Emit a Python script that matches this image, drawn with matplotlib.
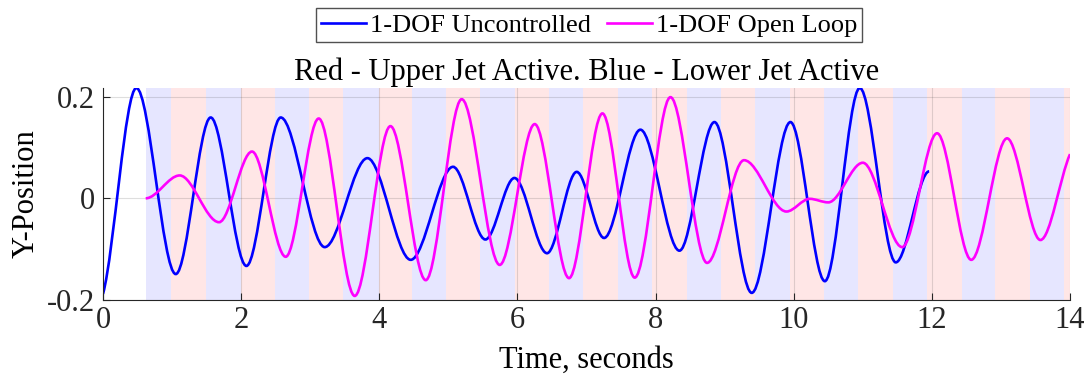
import matplotlib
matplotlib.use("Agg")
import matplotlib.pyplot as plt
from matplotlib.path import Path
from matplotlib.patches import PathPatch
from matplotlib.lines import Line2D

plt.rcParams["font.family"] = ["Liberation Serif", "DejaVu Serif"]
plt.rcParams["axes.unicode_minus"] = False
SERIF = ["Liberation Serif", "DejaVu Serif"]

# jet switching times (s); first band is blue, then they alternate red/blue
band_edges = [0.62, 0.99, 1.49, 2.00, 2.49, 2.98, 3.47, 3.99, 4.47, 4.97, 5.46,
              5.97, 6.46, 6.95, 7.45, 7.95, 8.45, 8.94, 9.44, 9.94, 10.44,
              10.93, 11.43, 11.93, 12.43, 12.92, 13.42, 13.91, 14.00]

# 1-DOF uncontrolled: peaks / troughs
unc_t = [0.00, 0.483, 1.053, 1.559, 2.076, 2.573, 3.21, 3.828, 4.455, 5.067,
         5.536, 5.956, 6.428, 6.858, 7.254, 7.78, 8.345, 8.852, 9.392, 9.952,
         10.45, 10.956, 11.477, 11.96]
unc_y = [-0.188, 0.217, -0.149, 0.159, -0.133, 0.159, -0.096, 0.079, -0.121,
         0.062, -0.081, 0.040, -0.108, 0.052, -0.078, 0.135, -0.103, 0.150,
         -0.186, 0.150, -0.163, 0.217, -0.126, 0.053]
unc_slope = [0.5] + [0.0] * 23

# 1-DOF open loop
ol_t = [0.618, 1.11, 1.68, 2.157, 2.645, 3.123, 3.644, 4.161, 4.672, 5.193,
        5.743, 6.25, 6.747, 7.23, 7.698, 8.215, 8.745, 9.28, 9.894, 10.23,
        10.5, 11.0, 11.57, 12.075, 12.57, 13.088, 13.571, 14.0]
ol_y = [0.0, 0.045, -0.047, 0.092, -0.115, 0.157, -0.192, 0.142, -0.161, 0.195,
        -0.131, 0.146, -0.157, 0.167, -0.156, 0.199, -0.127, 0.075, -0.026,
        -0.001, -0.008, 0.070, -0.096, 0.128, -0.121, 0.118, -0.082, 0.087]
ol_slope = [0.0] * 27 + [0.3]


def smooth_path(t, y, m):
    # hermite segments written as cubic bezier pieces
    verts = [(t[0], y[0])]
    codes = [Path.MOVETO]
    for i in range(len(t) - 1):
        dt = t[i + 1] - t[i]
        verts += [(t[i] + dt / 3, y[i] + m[i] * dt / 3),
                  (t[i + 1] - dt / 3, y[i + 1] - m[i + 1] * dt / 3),
                  (t[i + 1], y[i + 1])]
        codes += [Path.CURVE4] * 3
    return Path(verts, codes)


fig = plt.figure(figsize=(10.89, 3.84), dpi=100)
ax = fig.add_axes([0.0946, 0.2188, 0.888, 0.552])

for i in range(len(band_edges) - 1):
    c = "#e6e6ff" if i % 2 == 0 else "#ffe6e6"
    ax.axvspan(band_edges[i], band_edges[i + 1], color=c, lw=0, zorder=0.1)

ax.add_patch(PathPatch(smooth_path(unc_t, unc_y, unc_slope), fill=False,
                       edgecolor="#0000ff", lw=1.9, zorder=2))
ax.add_patch(PathPatch(smooth_path(ol_t, ol_y, ol_slope), fill=False,
                       edgecolor="#ff00ff", lw=1.9, zorder=2))

ax.set_xlim(0, 14)
ax.set_ylim(-0.2, 0.217)
ax.set_xticks(range(0, 15, 2))
ax.set_yticks([-0.2, 0, 0.2])
ax.set_yticklabels(["-0.2", "0", "0.2"])
ax.set_axisbelow(True)
ax.grid(True, color="#262626", alpha=0.15, lw=0.8)

for s in ["top", "right"]:
    ax.spines[s].set_visible(False)
for s in ["left", "bottom"]:
    ax.spines[s].set_color("#262626")
    ax.spines[s].set_linewidth(0.8)
ax.tick_params(direction="in", length=5, width=0.8, color="#262626",
               labelsize=22, labelcolor="#262626")
ax.tick_params(axis="x", pad=4)
ax.tick_params(axis="y", pad=6)
for lab in ax.get_xticklabels() + ax.get_yticklabels():
    lab.set_family(SERIF)

ax.set_xlabel("Time, seconds", fontsize=22, family=SERIF, labelpad=8)
ax.set_ylabel("Y-Position", fontsize=22, family=SERIF, labelpad=4)
ax.set_title("Red - Upper Jet Active. Blue - Lower Jet Active",
             fontsize=22, family=SERIF, pad=6)

handles = [Line2D([], [], color="#0000ff", lw=1.9),
           Line2D([], [], color="#ff00ff", lw=1.9)]
fig.legend(handles, ["1-DOF Uncontrolled", "1-DOF Open Loop"],
           loc="center", bbox_to_anchor=(0.541, 0.934), ncol=2,
           prop={"family": SERIF, "size": 19},
           frameon=True, fancybox=False, edgecolor="#262626",
           handlelength=1.7, handletextpad=0.15, columnspacing=0.6,
           borderpad=0.2, borderaxespad=0)

fig.savefig("out.png", dpi=100)
